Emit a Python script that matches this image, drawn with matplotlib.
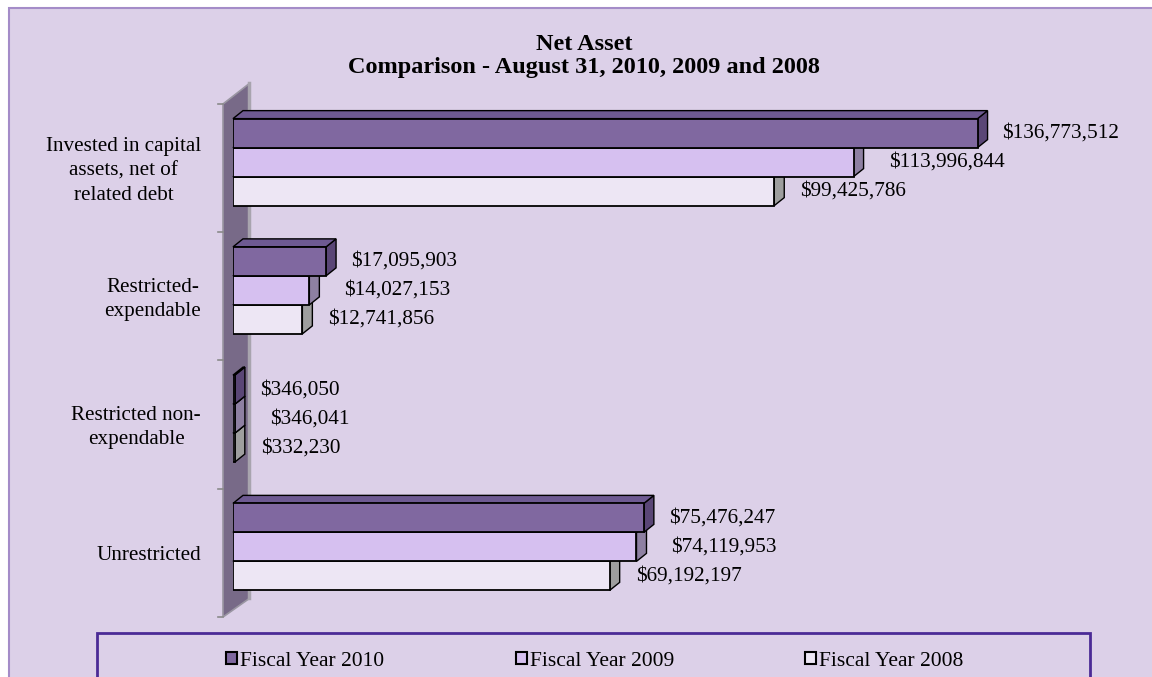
import matplotlib.pyplot as plt
from matplotlib.patches import Polygon, Rectangle, Patch

# Net asset comparison data
categories = [
    "Invested in capital\nassets, net of\nrelated debt",
    "Restricted-\nexpendable",
    "Restricted non-\nexpendable",
    "Unrestricted",
]
series = ["Fiscal Year 2010", "Fiscal Year 2009", "Fiscal Year 2008"]
fy2010 = [136773512, 17095903, 346050, 75476247]
fy2009 = [113996844, 14027153, 346041, 74119953]
fy2008 = [99425786, 12741856, 332230, 69192197]
values = [fy2010, fy2009, fy2008]

front = ['#8068A0', '#D6C0F0', '#EDE6F4']
side = ['#5A4676', '#8E80A2', '#9E9E9E']
top = ['#6E5A92', '#B8A8D0', '#CFCAD6']
bg = '#DCD0E8'

plt.rcParams['font.family'] = ['Liberation Serif', 'DejaVu Serif']

W, H = 1152, 677
fig = plt.figure(figsize=(W / 100, H / 100), dpi=100)
fig.patch.set_facecolor('white')

# lavender chart area with thin border
fig.add_artist(Rectangle((9 / W, -0.02), 1.05, 1 - 8 / H + 0.02, transform=fig.transFigure,
                         facecolor=bg, edgecolor='#A48CC8', linewidth=1.5, zorder=-10))

# plot area (pixel positions of front faces)
x0, x1 = 233, 1104
ytop, ybot = 98, 611
ax = fig.add_axes([x0 / W, 1 - ybot / H, (x1 - x0) / W, (ybot - ytop) / H])
xmax = 160e6
ax.set_xlim(0, xmax)
ax.set_ylim(3.5, -0.5)
ax.axis('off')

px = xmax / (x1 - x0)          # data units per pixel in x
py = 4 / (ybot - ytop)         # data units per pixel in y
dx, dy = 10 * px, 8 * py       # 3D depth of the bars

# grey side wall
b0, b1 = -0.5 + 6 * py, 3.5 + 6 * py
wall = Polygon([(-10 * px, b0), (-10 * px, b1), (17 * px, b1 - 19 * py), (17 * px, b0 - 21 * py)],
               closed=True, facecolor='#786A88', edgecolor='#9A96A2', linewidth=1.2,
               zorder=1, clip_on=False)
ax.add_patch(wall)
ax.plot([16 * px, 16 * px], [b1 - 19 * py, b0 - 21 * py], color='#A8A4AE', lw=2.5,
        zorder=1.5, clip_on=False)
for k in range(5):
    yb = b0 + k
    ax.plot([-15 * px, -10 * px], [yb, yb], color='#8A8A8A', lw=1.2, clip_on=False, zorder=1)

h = 29 / 128.25
offs = [15, 25, 16]
for j in [2, 1, 0]:
    z = 2 + (2 - j) * 3
    ys = [i - 1.5 * h + (j + 0.5) * h for i in range(len(categories))]
    for y, v in zip(ys, values[j]):
        t, b = y - h / 2, y + h / 2
        ax.add_patch(Polygon([(v, t), (v + dx, t - dy), (v + dx, b - dy), (v, b)], closed=True,
                             facecolor=side[j], edgecolor='black', linewidth=1.0, zorder=z,
                             clip_on=False))
        ax.add_patch(Polygon([(0, t), (dx, t - dy), (v + dx, t - dy), (v, t)], closed=True,
                             facecolor=top[j], edgecolor='black', linewidth=1.0, zorder=z + 0.5,
                             clip_on=False))
        ax.annotate(f"${v:,.0f}", xy=(v + dx, y), xytext=(offs[j], 0), textcoords='offset pixels',
                    ha='left', va='center', fontsize=15.3, zorder=20)
    ax.barh(ys, values[j], height=h, color=front[j], edgecolor='black', linewidth=1.3,
            zorder=z + 1)

for i, c in enumerate(categories):
    ax.text(-32 * px, i + 9 * py, c, ha='right', va='center', multialignment='center',
            fontsize=15.2, linespacing=1.38)

# title
fig.text(584 / W, 1 - 44 / H, "Net Asset", ha='center', va='center', fontsize=17.5,
         fontweight='bold')
fig.text(584 / W, 1 - 67 / H, "Comparison - August 31, 2010, 2009 and 2008", ha='center',
         va='center', fontsize=17.5, fontweight='bold')

# legend box
fig.add_artist(Rectangle((97 / W, -0.05), 993 / W, (677 - 633) / H + 0.05, transform=fig.transFigure,
                         fill=False, edgecolor='#4B2A96', linewidth=2))
handles = [Patch(facecolor=front[j], edgecolor='black', linewidth=1.5) for j in range(3)]
fig.legend(handles, series, loc='center', bbox_to_anchor=(595 / W, 1 - 661 / H), ncol=3,
           frameon=False, fontsize=15.5, handlelength=0.5, handleheight=0.5,
           handletextpad=0.15, columnspacing=6.1)

fig.savefig('out.png', dpi=100)
